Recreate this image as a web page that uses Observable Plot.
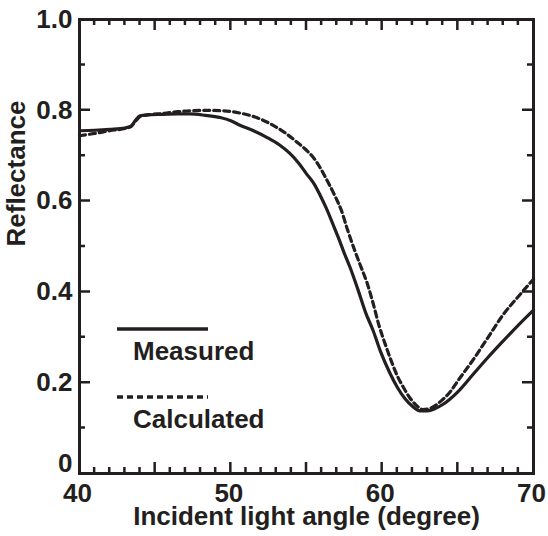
<!DOCTYPE html>
<html><head><meta charset="utf-8">
<script src="https://cdn.jsdelivr.net/npm/d3@7"></script>
<script src="https://cdn.jsdelivr.net/npm/@observablehq/plot@0.6"></script>
<style>
body{margin:0;background:#fff}
#chart svg{font-family:"Liberation Sans",Arial,Helvetica,sans-serif}
</style>
</head><body><div id="chart"></div>
<script>
// ---- data ----
const measuredAngle = [40,41,42,43,43.4,43.7,44.0,44.5,45.5,46.5,47.3,48.3,49.3,50.0,50.6,51.5,52.4,53.2,53.9,54.5,55.0,55.5,55.9,56.3,56.7,57.1,57.5,57.9,58.4,58.9,59.4,59.9,60.5,61.0,61.5,62.0,62.5,63.0,63.5,64.0,65,66,67,68,69,70];
const measuredReflectance = [0.755,0.756,0.758,0.761,0.765,0.778,0.788,0.790,0.791,0.792,0.792,0.789,0.784,0.777,0.767,0.755,0.740,0.724,0.705,0.683,0.660,0.638,0.613,0.585,0.553,0.52,0.485,0.452,0.405,0.355,0.315,0.268,0.222,0.19,0.165,0.148,0.138,0.138,0.143,0.152,0.18,0.218,0.256,0.292,0.327,0.36];
const calculatedAngle = [40,41,42,43,43.4,43.7,44.0,44.5,45.5,46.5,47.3,48.5,49.5,50.6,51.7,52.8,53.6,54.4,55.0,55.5,56.0,56.4,56.9,57.3,57.7,58.2,58.6,59.0,59.4,59.8,60.2,60.6,61.0,61.4,61.8,62.2,62.7,63.2,63.9,64.5,65,66,67,68,69,70];
const calculatedReflectance = [0.744,0.749,0.755,0.760,0.764,0.776,0.786,0.790,0.793,0.797,0.799,0.800,0.799,0.794,0.784,0.767,0.750,0.729,0.712,0.694,0.668,0.643,0.61,0.58,0.538,0.49,0.455,0.42,0.375,0.325,0.285,0.248,0.215,0.19,0.168,0.152,0.141,0.144,0.16,0.18,0.204,0.25,0.30,0.35,0.39,0.428];
const seriesNames = ["Measured", "Calculated"];
const xTickLabels = [40, 50, 60, 70];
const xMajorTicks = [45, 50, 55, 60, 65];
const xMinorTicks = d3.range(41, 70, 1).filter(d => d % 5 !== 0);
const yTickLabels = [0.2, 0.4, 0.6, 0.8, 1.0];
const yZeroLabel = [0];
const yMajorTicks = [0.2, 0.4, 0.6, 0.8];
const yMinorTicks = [0.1, 0.3, 0.5, 0.7, 0.9];
const xTitle = "Incident light angle (degree)";
const yTitle = "Reflectance";

// ---- layout / style ----
const W = 548, H = 536;
const mL = 79, mR = 15, mT = 19, mB = 63;
const ink = "#231f20";
const dashes = {Measured: null, Calculated: "6,4"};
const fs = 26;

const measured = measuredAngle.map((a, i) => ({angle: a, r: measuredReflectance[i], series: seriesNames[0]}));
const calculated = calculatedAngle.map((a, i) => ({angle: a, r: calculatedReflectance[i], series: seriesNames[1]}));

const minorLen = 6, majorLen = 11, tw = 2.5;

// inward mirrored ticks on all four sides, placed through the scales (one path)
const ticksMark = (index, scales, values, dim) => {
  const top = dim.marginTop, bottom = dim.height - dim.marginBottom;
  const left = dim.marginLeft, right = dim.width - dim.marginRight;
  let d = "";
  for (const [ticks, len] of [[xMinorTicks, minorLen], [xMajorTicks, majorLen]]) {
    for (const t of ticks) {
      const px = scales.x(t);
      d += `M${px},${bottom}V${bottom - len}M${px},${top}V${top + len}`;
    }
  }
  for (const [ticks, len] of [[yMinorTicks, minorLen], [yMajorTicks, majorLen]]) {
    for (const t of ticks) {
      const py = scales.y(t);
      d += `M${left},${py}H${left + len}M${right},${py}H${right - len}`;
    }
  }
  const p = d3.create("svg:path").attr("d", d).attr("fill", "none")
    .attr("stroke", ink).attr("stroke-width", tw);
  return p.node();
};

const legend = (index, scales, values, dim) => {
  const g = d3.create("svg:g");
  const x0 = dim.marginLeft + 38, x1 = dim.marginLeft + 129;
  const rows = [{name: seriesNames[0], ly: 329, ty: 360}, {name: seriesNames[1], ly: 397, ty: 428}];
  for (const r of rows) {
    g.append("line").attr("x1", x0).attr("x2", x1).attr("y1", r.ly).attr("y2", r.ly)
      .attr("stroke", ink).attr("stroke-width", 3.5)
      .attr("stroke-dasharray", dashes[r.name]);
    g.append("text").attr("x", dim.marginLeft + 54).attr("y", r.ty)
      .attr("text-anchor", "start")
      .attr("fill", ink).attr("font-size", fs).attr("font-weight", "bold")
      .text(r.name);
  }
  return g.node();
};

const chart = Plot.plot({
  width: W, height: H,
  marginLeft: mL, marginRight: mR, marginTop: mT, marginBottom: mB,
  x: {domain: [40, 70], axis: null},
  y: {domain: [0, 1], axis: null},
  marks: [
    Plot.line(measured, {x: "angle", y: "r", stroke: ink, strokeWidth: 3.2, curve: "monotone-x"}),
    Plot.line(calculated, {x: "angle", y: "r", stroke: ink, strokeWidth: 3.2, strokeDasharray: dashes.Calculated, curve: "monotone-x"}),
    Plot.text(xTickLabels, {x: d => d, frameAnchor: "bottom", dy: 20, dx: -2, text: d => String(d), lineAnchor: "middle", fontSize: fs, fontWeight: "bold", fill: ink}),
    Plot.text(yTickLabels, {y: d => d, frameAnchor: "left", dx: -7, textAnchor: "end", text: d => d.toFixed(1), lineAnchor: "middle", fontSize: fs, fontWeight: "bold", fill: ink}),
    Plot.text(yZeroLabel, {y: d => d, frameAnchor: "left", dx: -7, dy: -10, textAnchor: "end", text: d => String(d), lineAnchor: "middle", fontSize: fs, fontWeight: "bold", fill: ink}),
    Plot.text([xTitle], {frameAnchor: "bottom", dy: 43, text: d => d, lineAnchor: "middle", fontSize: fs, fontWeight: "bold", fill: ink}),
    Plot.text([yTitle], {frameAnchor: "left", dx: -63, rotate: -90, text: d => d, lineAnchor: "middle", fontSize: fs, fontWeight: "bold", fill: ink}),
    legend,
    Plot.frame({stroke: ink, strokeWidth: 3}),
    ticksMark
  ]
});
document.getElementById("chart").append(chart);
</script>
</body></html>
